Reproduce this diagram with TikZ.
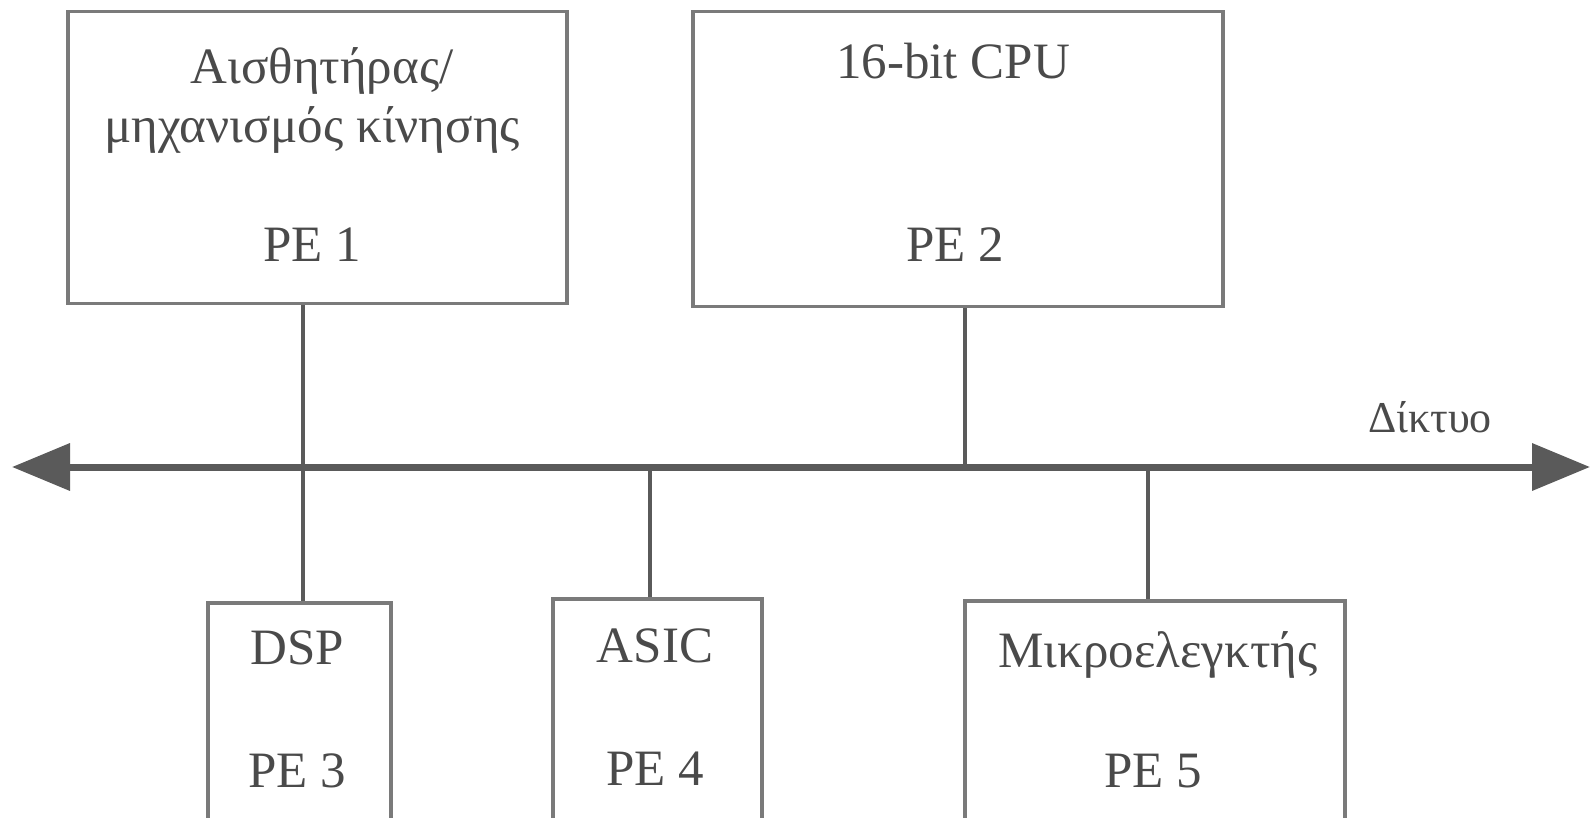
\documentclass[tikz,border=0pt]{standalone}
\usepackage{fontspec}
\setmainfont{Liberation Serif}
\usetikzlibrary{arrows.meta}
\definecolor{boxgray}{HTML}{7A7A7A}
\definecolor{linegray}{HTML}{5A5A5A}
\definecolor{txtgray}{HTML}{4A4A4A}
\tikzset{
  pebox/.style={draw=boxgray, line width=3.5pt, fill=white, anchor=north west, inner sep=0pt},
  lbl/.style={text=txtgray, font=\fontsize{51}{60}\selectfont, inner sep=0pt, anchor=base},
  link/.style={draw=linegray, line width=3.5pt},
  bus/.style={draw=linegray, line width=7pt, {Triangle[length=58pt,width=46pt]}-{Triangle[length=58pt,width=46pt]}}
}
\begin{document}
\begin{tikzpicture}[x=1pt,y=-1pt]
\useasboundingbox (0,0) rectangle (1593,818);
\clip (0,0) rectangle (1593,818);
% boxes
\node[pebox, minimum width=499pt, minimum height=292pt] (pe1) at (66,10) {};
\node[pebox, minimum width=530pt, minimum height=295pt] (pe2) at (691,10) {};
\node[pebox, minimum width=183pt, minimum height=260pt] (pe3) at (206,601) {};
\node[pebox, minimum width=209pt, minimum height=260pt] (pe4) at (551,597) {};
\node[pebox, minimum width=380pt, minimum height=260pt] (pe5) at (963,599) {};
% bus
\coordinate (busL) at (12,467);
\coordinate (busR) at (1590,467);
\coordinate (b1) at (303,467);
\coordinate (b2) at (965,467);
\coordinate (b4) at (650,467);
\coordinate (b5) at (1148,467);
% connectors
\draw[link] (pe1.south -| b1) -- (pe3.north -| b1);
\draw[link] (pe2.south -| b2) -- (b2);
\draw[link] (b4) -- (pe4.north -| b4);
\draw[link] (b5) -- (pe5.north -| b5);
\draw[bus] (busL) -- (busR);
% labels
\node[lbl] (t1a) at (322,84) {Αισθητήρας/};
\node[lbl] (t1b) at (312,143) {μηχανισμός κίνησης};
\node[lbl] (t1c) at (312,262) {PE 1};
\node[lbl] (t2a) at (953,79) {16-bit CPU};
\node[lbl] (t2c) at (955,262) {PE 2};
\node[lbl] (t3a) at (297,664) {DSP};
\node[lbl] (t3c) at (297,787) {PE 3};
\node[lbl] (t4a) at (655,662) {ASIC};
\node[lbl] (t4c) at (655,785) {PE 4};
\node[lbl] (t5a) at (1158,667) {Μικροελεγκτής};
\node[lbl] (t5c) at (1153,787) {PE 5};
\node[lbl, font=\fontsize{44}{50}\selectfont] (net) at (1430,432) {Δίκτυο};
\end{tikzpicture}
\end{document}
